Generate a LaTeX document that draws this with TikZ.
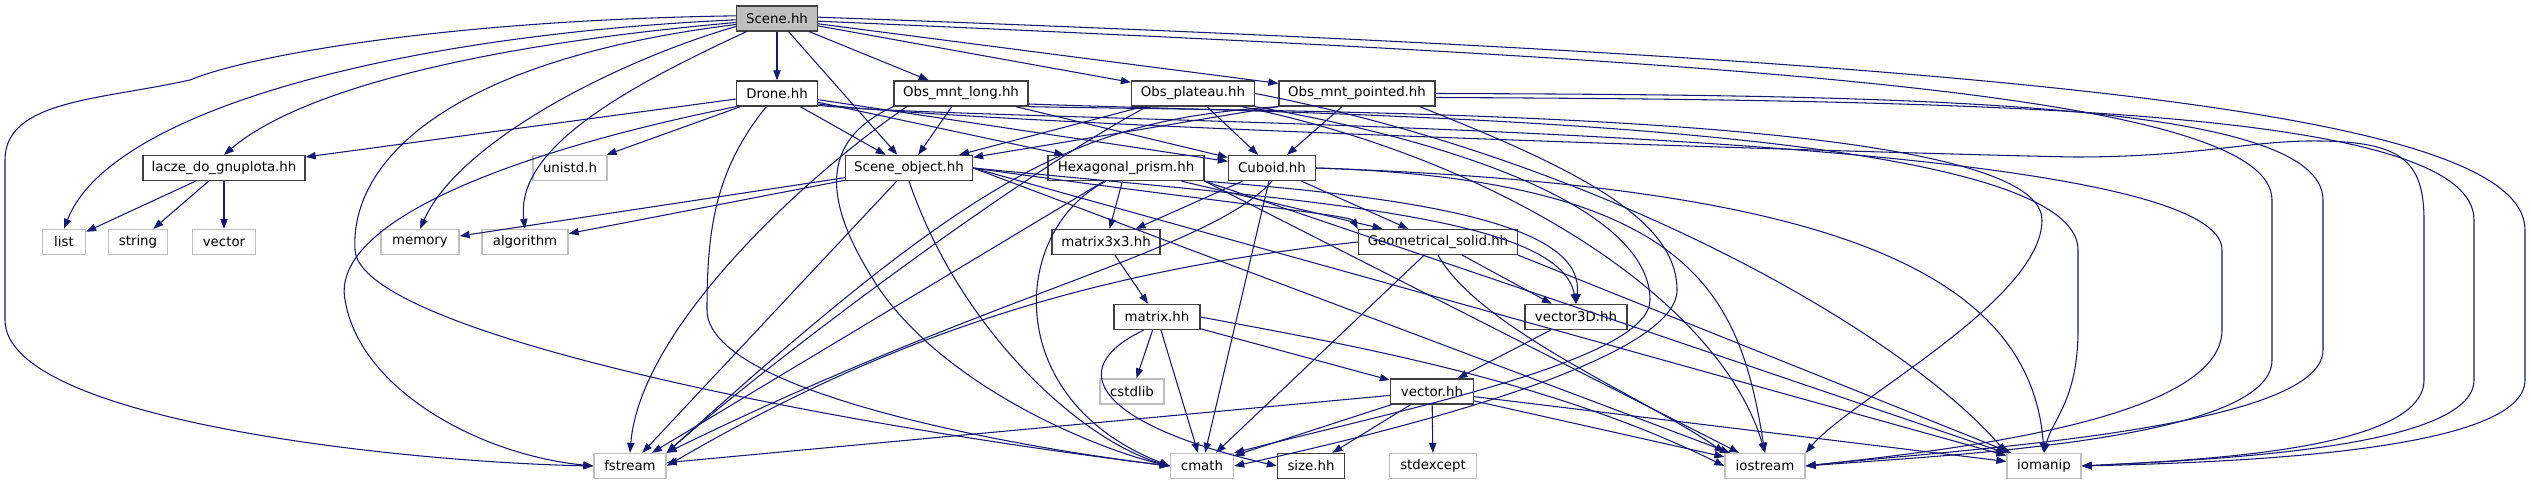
\documentclass[tikz,border=0pt]{standalone}
\usepackage{fontspec}
\setsansfont{DejaVu Sans}
\usetikzlibrary{arrows.meta}
\definecolor{EdgeBlue}{HTML}{191970}
\definecolor{RootGray}{HTML}{BFBFBF}
\definecolor{SysGray} {HTML}{BFBFBF}
\definecolor{HdrLine} {HTML}{404040}
\tikzset{
  box/.style={rectangle,minimum height=18.75pt,inner xsep=4pt,inner ysep=0pt,
              font=\sffamily\fontsize{10}{12}\selectfont,line width=1pt,fill=white},
  root/.style={box,draw=HdrLine,fill=RootGray},
  hdr/.style={box,draw=HdrLine},
  sys/.style={box,draw=SysGray},
  dep/.style={draw=EdgeBlue,line width=0.8pt,-{Triangle[length=7.5pt,width=5.5pt]}},
}
\begin{document}
\begin{tikzpicture}[x=0.75pt,y=-0.75pt]
  \useasboundingbox (0,0) rectangle (2531,485);

  % top rows
  \node[root,minimum width=60.75pt] (scene)  at (777,18.5)  {Scene.hh};
  \node[hdr,minimum width=60.75pt]  (drone)  at (777,93.5)  {Drone.hh};
  \node[hdr,minimum width=100.5pt]  (omlong) at (961,93.5)  {Obs\_mnt\_long.hh};
  \node[hdr,minimum width=92.25pt]  (oplat)  at (1193,93.5) {Obs\_plateau.hh};
  \node[hdr,minimum width=117pt]    (ompt)   at (1357,93.5) {Obs\_mnt\_pointed.hh};

  \node[hdr,minimum width=121.5pt]  (lacze)  at (224,168)   {lacze\_do\_gnuplota.hh};
  \node[sys,minimum width=55.5pt]   (unistd) at (570,168)   {unistd.h};
  \node[hdr,minimum width=95.25pt]  (sobj)   at (909,168)   {Scene\_object.hh};
  \node[hdr,minimum width=117pt]    (hexp)   at (1126,168)  {Hexagonal\_prism.hh};
  \node[hdr,minimum width=65.25pt]  (cuboid) at (1272,168)  {Cuboid.hh};

  \node[sys,minimum width=32.25pt]  (list)      at (64,242)   {list};
  \node[sys,minimum width=44.25pt]  (string)    at (138,242)  {string};
  \node[sys,minimum width=47.25pt]  (vector)    at (224,242)  {vector};
  \node[sys,minimum width=58.5pt]   (memory)    at (420,242)  {memory};
  \node[sys,minimum width=64.5pt]   (algorithm) at (525,242)  {algorithm};
  \node[hdr,minimum width=81pt]     (mat33)     at (1106,242) {matrix3x3.hh};
  \node[hdr,minimum width=119.25pt] (geom)      at (1438,242) {Geometrical\_solid.hh};

  \node[hdr,minimum width=64.5pt]   (matrix)    at (1157,317)   {matrix.hh};
  \node[hdr,minimum width=76.5pt]   (vec3d)     at (1576,317)   {vector3D.hh};
  \node[sys,minimum width=48pt]     (cstdlib)   at (1132,391.5) {cstdlib};
  \node[hdr,minimum width=62.25pt]  (vectorhh)  at (1432,391.5) {vector.hh};

  % bottom row
  \node[sys,minimum width=54pt]     (fstream)   at (630,466)  {fstream};
  \node[sys,minimum width=47.25pt]  (cmath)     at (1202,466) {cmath};
  \node[hdr,minimum width=50.25pt]  (sizehh)    at (1311,466) {size.hh};
  \node[sys,minimum width=65.25pt]  (stdexcept) at (1433,466) {stdexcept};
  \node[sys,minimum width=60pt]     (iostream)  at (1765,466) {iostream};
  \node[sys,minimum width=55.5pt]   (iomanip)   at (2044,466) {iomanip};

  % Scene.hh
  \draw[dep] (scene) -- (drone);
  \draw[dep] (scene) -- (omlong);
  \draw[dep] (scene) -- (oplat);
  \draw[dep] (scene) -- (ompt);
  \draw[dep] (scene) -- (sobj);
  \draw[dep] ([yshift=-3pt]scene.west) .. controls (480,45) and (300,90) .. (lacze.north);
  \draw[dep] ([yshift=-1pt]scene.west) .. controls (400,35) and (110,110) .. (list.north);
  \draw[dep] ([yshift=2pt]scene.west) .. controls (450,20) and (250,55) .. (190,80)
             .. controls (100,100) and (5,100) .. (5,160) -- (5,320)
             .. controls (5,420) and (400,462) .. (fstream.west);
  \draw[dep] ([yshift=-6pt]scene.west) .. controls (620,60) and (460,140) .. (memory.north);
  \draw[dep] ([xshift=8pt]scene.south west) .. controls (620,90) and (515,150) .. (algorithm.north);
  \draw[dep] ([yshift=-4.5pt]scene.west) .. controls (450,60) and (350,160) .. (355,250)
             .. controls (360,330) and (800,420) .. (cmath.west);
  \draw[dep] ([yshift=-2pt]scene.east) .. controls (1700,60) and (2272,90) .. (2272,200) -- (2272,360)
             .. controls (2272,440) and (1950,455) .. (iostream.east);
  \draw[dep] ([yshift=1pt]scene.east) .. controls (2000,60) and (2525,110) .. (2525,230) -- (2525,380)
             .. controls (2525,450) and (2250,462) .. (iomanip.east);

  % Drone.hh
  \draw[dep] (drone) -- (lacze);
  \draw[dep] (drone) -- (unistd);
  \draw[dep] (drone) -- (sobj);
  \draw[dep] (drone) -- (hexp);
  \draw[dep] (drone) -- (cuboid);
  \draw[dep] (drone.south west) .. controls (520,150) and (330,220) .. (345,300)
             .. controls (360,390) and (480,455) .. (fstream.west);
  \draw[dep] ([xshift=-8pt]drone.south) .. controls (715,170) and (707,230) .. (707,310)
             .. controls (707,390) and (1000,445) .. (cmath.west);
  \draw[dep] ([yshift=1pt]drone.south east) .. controls (1000,125) and (2222,120) .. (2222,250) -- (2222,330)
             .. controls (2222,420) and (1950,450) .. (iostream.east);
  \draw[dep] ([yshift=2pt]drone.south east) .. controls (1000,127) and (1950,155) .. (2075,157)
             .. controls (2200,157) and (2250,140) .. (2320,141)
             .. controls (2400,142) and (2424,160) .. (2424,220) -- (2424,380)
             .. controls (2424,450) and (2200,460) .. (iomanip.east);

  % Obs_mnt_long.hh
  \draw[dep] (omlong) -- (sobj);
  \draw[dep] (omlong) -- (cuboid);
  \draw[dep] ([xshift=10pt]omlong.south west) .. controls (800,180) and (640,330) .. (fstream.north);
  \draw[dep] (omlong.south west) .. controls (820,140) and (820,200) .. (880,290)
             .. controls (950,390) and (1100,450) .. (cmath.west);
  \draw[dep] (omlong.south east) .. controls (1300,112) and (2042,110) .. (2042,220)
             .. controls (2042,300) and (1850,400) .. (iostream.north east);
  \draw[dep] ([yshift=2pt]omlong.south east) .. controls (1300,114) and (2078,120) .. (2078,250) -- (2078,330)
             .. controls (2078,400) and (2052,420) .. (iomanip.north);

  % Obs_plateau.hh
  \draw[dep] (oplat) -- (sobj);
  \draw[dep] (oplat) -- (cuboid);
  \draw[dep] ([xshift=12pt]oplat.south west) .. controls (1010,180) and (760,370) .. (fstream.north east);
  \draw[dep] (oplat.south east) .. controls (1500,150) and (1650,220) .. (1650,300)
             .. controls (1650,360) and (1400,410) .. (cmath.north east);
  \draw[dep] ([xshift=-10pt]oplat.south east) .. controls (1500,160) and (1720,300) .. (iostream.north);
  \draw[dep] (oplat.east) .. controls (1600,160) and (1900,330) .. (iomanip.north west);

  % Obs_mnt_pointed.hh
  \draw[dep] (ompt) -- (sobj);
  \draw[dep] (ompt) -- (cuboid);
  \draw[dep] (ompt.south west) .. controls (1080,120) and (980,170) .. (fstream.north east);
  \draw[dep] ([xshift=-12pt]ompt.south east) .. controls (1580,170) and (1677,220) .. (1677,290)
             .. controls (1677,360) and (1400,430) .. (cmath.east);
  \draw[dep] (ompt.east) .. controls (1900,95) and (2323,100) .. (2323,200) -- (2323,350)
             .. controls (2323,430) and (1950,450) .. (iostream.east);
  \draw[dep] ([yshift=-3pt]ompt.east) .. controls (2000,100) and (2474,110) .. (2474,220) -- (2474,380)
             .. controls (2474,450) and (2200,460) .. (iomanip.east);

  % Scene_object.hh
  \draw[dep] (sobj) -- (memory);
  \draw[dep] (sobj) -- (algorithm);
  \draw[dep] (sobj) -- (fstream);
  \draw[dep] (sobj.south) .. controls (960,330) and (1080,440) .. (cmath.west);
  \draw[dep] (sobj.east) .. controls (1200,200) and (1350,215) .. (geom.north west);
  \draw[dep] (sobj.east) .. controls (1300,200) and (1560,215) .. (vec3d.north);
  \draw[dep] (sobj.east) -- (iostream);
  \draw[dep] (sobj.east) -- (iomanip);

  % Hexagonal_prism.hh
  \draw[dep] (hexp) -- (mat33);
  \draw[dep] (hexp) -- (geom);
  \draw[dep] (hexp) -- (fstream);
  \draw[dep] ([xshift=-15pt]hexp.south) .. controls (1010,230) and (1000,400) .. (cmath.west);
  \draw[dep] (hexp.south east) .. controls (1450,200) and (1585,230) .. (vec3d.north);
  \draw[dep] (hexp.south east) -- (iostream);
  \draw[dep] (hexp.south east) -- (iomanip);

  % Cuboid.hh
  \draw[dep] (cuboid) -- (mat33);
  \draw[dep] (cuboid) -- (geom);
  \draw[dep] (cuboid.south) .. controls (1210,250) and (1000,290) .. (fstream.north east);
  \draw[dep] (cuboid) -- (cmath);
  \draw[dep] (cuboid.east) .. controls (1700,180) and (1740,300) .. (iostream.north);
  \draw[dep] (cuboid.east) .. controls (1800,185) and (2030,260) .. (iomanip.north);

  % Geometrical_solid.hh
  \draw[dep] (geom) -- (vec3d);
  \draw[dep] (geom.west) .. controls (1100,270) and (900,330) .. (fstream.east);
  \draw[dep] (geom) -- (cmath);
  \draw[dep] (geom.south) .. controls (1480,330) and (1650,400) .. (iostream.north west);
  \draw[dep] (geom.south east) -- (iomanip);

  % matrix3x3.hh, matrix.hh, vector3D.hh
  \draw[dep] (mat33) -- (matrix);
  \draw[dep] (matrix) -- (cstdlib);
  \draw[dep] (matrix) -- (cmath);
  \draw[dep] (matrix) -- (vectorhh);
  \draw[dep] ([xshift=-10pt]matrix.south) .. controls (1060,370) and (1100,425) .. (sizehh.west);
  \draw[dep] (matrix.east) .. controls (1350,345) and (1550,380) .. (iostream.west);
  \draw[dep] (vec3d) -- (vectorhh);

  % vector.hh
  \draw[dep] (vectorhh) -- (fstream);
  \draw[dep] (vectorhh) -- (cmath);
  \draw[dep] (vectorhh) -- (sizehh);
  \draw[dep] (vectorhh) -- (stdexcept);
  \draw[dep] (vectorhh) -- (iostream);
  \draw[dep] (vectorhh) -- (iomanip);

  % lacze_do_gnuplota.hh
  \draw[dep] (lacze) -- (list);
  \draw[dep] (lacze) -- (string);
  \draw[dep] (lacze) -- (vector);

\end{tikzpicture}
\end{document}
